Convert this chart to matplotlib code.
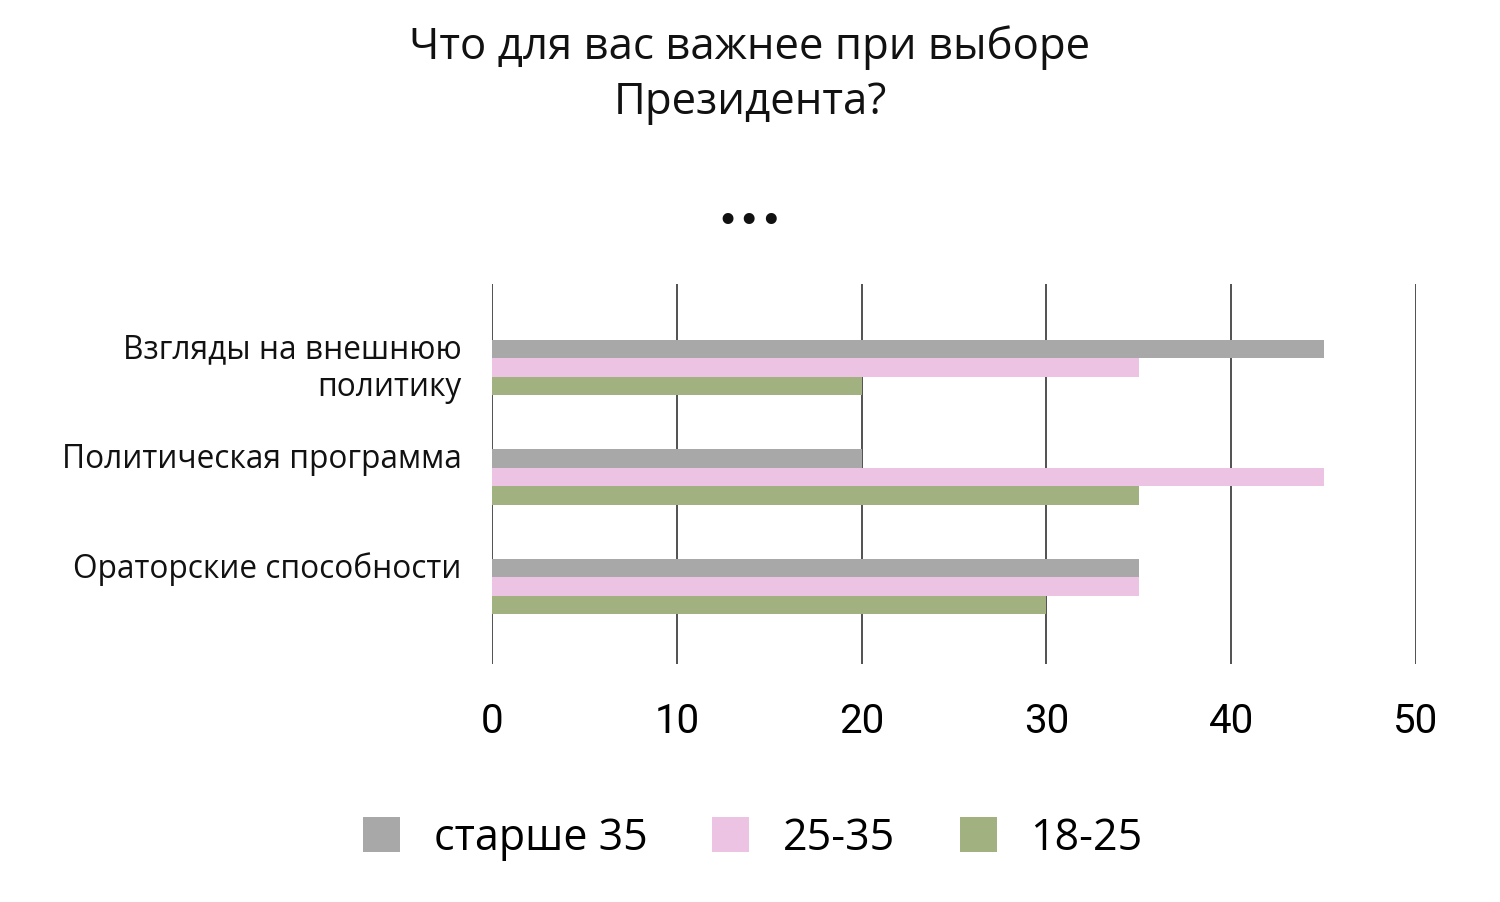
import matplotlib
matplotlib.use("Agg")
import matplotlib.pyplot as plt
import numpy as np
from matplotlib.patches import Patch

categories = ["Взгляды на внешнюю\nполитику", "Политическая программа", "Ораторские способности"]
series_names = ["старше 35", "25-35", "18-25"]
values_older35 = [45, 20, 35]
values_25_35 = [35, 45, 35]
values_18_25 = [20, 35, 30]
xticks = [0, 10, 20, 30, 40, 50]

colors = ["#A8A8A8", "#EDC3E3", "#A1B180"]
series = [values_older35, values_25_35, values_18_25]

plt.rcParams['font.family'] = ['Open Sans', 'DejaVu Sans']

fig = plt.figure(figsize=(15, 9.03), dpi=100)
ax = fig.add_axes([0.328, 0.2636, 0.616, 0.4208])

y = np.arange(len(categories))
h = 0.168
for k, (vals, col) in enumerate(zip(series, colors)):
    ax.barh(y + (k - 1) * h, vals, height=h, color=col, zorder=2)

ax.set_xlim(0, 50)
ax.set_ylim(2.708, -0.763)
ax.set_xticks(xticks)
ax.set_xticklabels([str(t) for t in xticks], fontsize=29, family=['Roboto', 'DejaVu Sans'])
ax.tick_params(axis='x', length=0, pad=27)
ax.set_yticks([])
for s in ax.spines.values():
    s.set_visible(False)
ax.set_axisbelow(True)
ax.grid(axis='x', color='#333333', linewidth=1.2)

# category labels
offsets = [0.0, -0.17, -0.17]
for i, (lab, off) in enumerate(zip(categories, offsets)):
    ax.text(-0.033, i + off, lab, transform=ax.get_yaxis_transform(),
            ha='right', va='center', fontsize=22.8, linespacing=1.2, color='#111111')

fig.text(0.5, 0.917, "Что для вас важнее при выборе\nПрезидента?", ha='center', va='center',
         fontsize=31.5, linespacing=1.3, color='#111111')
fig.text(0.5, 0.753, "•••", ha='center', va='center', fontsize=27, color='#111111',
         family='DejaVu Sans')

handles = [Patch(facecolor=c, edgecolor='none') for c in colors]
fig.legend(handles, series_names, loc='center', bbox_to_anchor=(0.502, 0.071), ncol=3,
           frameon=False, fontsize=31, handlelength=0.86, handleheight=0.86,
           handletextpad=0.78, columnspacing=1.5)

fig.savefig("out.png", dpi=100)
